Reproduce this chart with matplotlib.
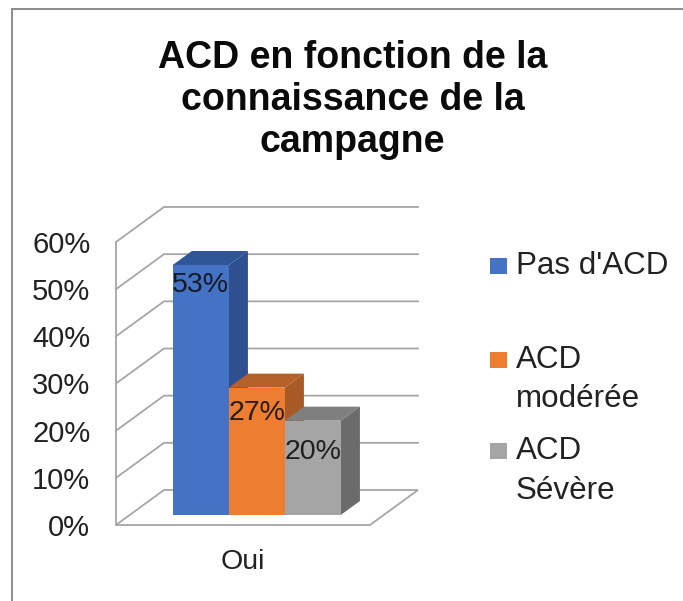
import matplotlib.pyplot as plt
from matplotlib.lines import Line2D
from matplotlib.patches import Polygon, Rectangle

plt.rcParams['font.family'] = ['Liberation Sans', 'DejaVu Sans']

title = 'ACD en fonction de la\nconnaissance de la\ncampagne'
category = 'Oui'
series = ["Pas d'ACD", 'ACD\nmodérée', 'ACD\nSévère']
values = [53, 27, 20]
y_ticks = [0, 10, 20, 30, 40, 50, 60]

# front, top, side colours of each bar
front_colors = ['#4472C4', '#ED7D31', '#A5A5A5']
top_colors = ['#2F5597', '#B5622A', '#7F7F7F']
side_colors = ['#2F5090', '#A85A26', '#6B6B6B']
label_drop = [4.3, 5.4, 6.7]

W, H = 683, 601
fig = plt.figure(figsize=(W / 100, H / 100), dpi=100, facecolor='white')
ax = fig.add_axes([116 / W, 1 - 525 / H, 254 / W, 283 / H], facecolor='none')
ax.set_xlim(0, 1)
ax.set_ylim(0, 60)

grid_c = '#a6a6a6'
# fake 3d: how far the back wall is shifted from the front plane
wall_dx = 48 / 254
wall_dy = 7.42
bar_w = 56 / 254
bar_d0, bar_d1 = 0.286, 0.686


def proj(x, y, d):
    return x + d * wall_dx, y + d * wall_dy


for v in y_ticks[1:]:
    ax.plot([0, wall_dx, 1 + wall_dx], [v, v + wall_dy, v + wall_dy],
            color=grid_c, lw=1.3, clip_on=False, zorder=1)
ax.add_patch(Polygon([(0, 0), (wall_dx, wall_dy), (1 + wall_dx, wall_dy), (1, 0)],
                     closed=True, fill=False, ec=grid_c, lw=1.3, clip_on=False, zorder=1))

for i, v in enumerate(values):
    x0 = 0.5 + (i - 1.5) * bar_w
    x1 = x0 + bar_w
    front = [proj(x0, 0, bar_d0), proj(x1, 0, bar_d0), proj(x1, v, bar_d0), proj(x0, v, bar_d0)]
    top = [proj(x0, v, bar_d0), proj(x1, v, bar_d0), proj(x1, v, bar_d1), proj(x0, v, bar_d1)]
    side = [proj(x1, 0, bar_d0), proj(x1, 0, bar_d1), proj(x1, v, bar_d1), proj(x1, v, bar_d0)]
    z = 2 + i
    ax.add_patch(Polygon(side, closed=True, fc=side_colors[i], ec='none', clip_on=False, zorder=z))
    ax.add_patch(Polygon(top, closed=True, fc=top_colors[i], ec='none', clip_on=False, zorder=z))
    ax.add_patch(Polygon(front, closed=True, fc=front_colors[i], ec='none', clip_on=False, zorder=z))
    lx, ly = proj(x0 + bar_w / 2, v - label_drop[i], bar_d0)
    ax.text(lx, ly, f'{v}%', ha='center', va='center', fontsize=20.5, color='#111111',
            alpha=0.9, zorder=10)

for s in ['top', 'right', 'bottom']:
    ax.spines[s].set_visible(False)
ax.spines['left'].set_color(grid_c)
ax.spines['left'].set_linewidth(1.3)
ax.set_yticks(y_ticks)
ax.set_yticklabels([f'{v}%' for v in y_ticks], fontsize=21, color='#222222')
ax.set_xticks([0.5])
ax.set_xticklabels([category], fontsize=20.5, color='#222222')
ax.tick_params(axis='y', length=0, pad=18.5)
ax.tick_params(axis='x', length=0, pad=17)

fig.text(352.5 / W, 1 - 100 / H, title, ha='center', va='center', fontsize=27,
         fontweight='bold', color='#0a0a0a', linespacing=1.2)

# legend entries, placed by hand
squares_y = [258, 352, 443]
text_y = [266, 379.5, 471]
for name, color, sy, ty in zip(series, front_colors, squares_y, text_y):
    fig.add_artist(Rectangle((490 / W, 1 - (sy + 16) / H), 17 / W, 16 / H, fc=color, ec='none',
                             transform=fig.transFigure))
    fig.text(516 / W, 1 - ty / H, name, ha='left', va='center', fontsize=22.6,
             color='#222222', linespacing=1.4)

# picture frame, only left and top show
frame_c = '#8c8c8c'
fig.add_artist(Line2D([12 / W, 12 / W], [0, 1 - 9 / H], color=frame_c, lw=1.4))
fig.add_artist(Line2D([12 / W, 1], [1 - 9 / H, 1 - 9 / H], color=frame_c, lw=1.4))

plt.savefig('out.png', dpi=100)
plt.close()
